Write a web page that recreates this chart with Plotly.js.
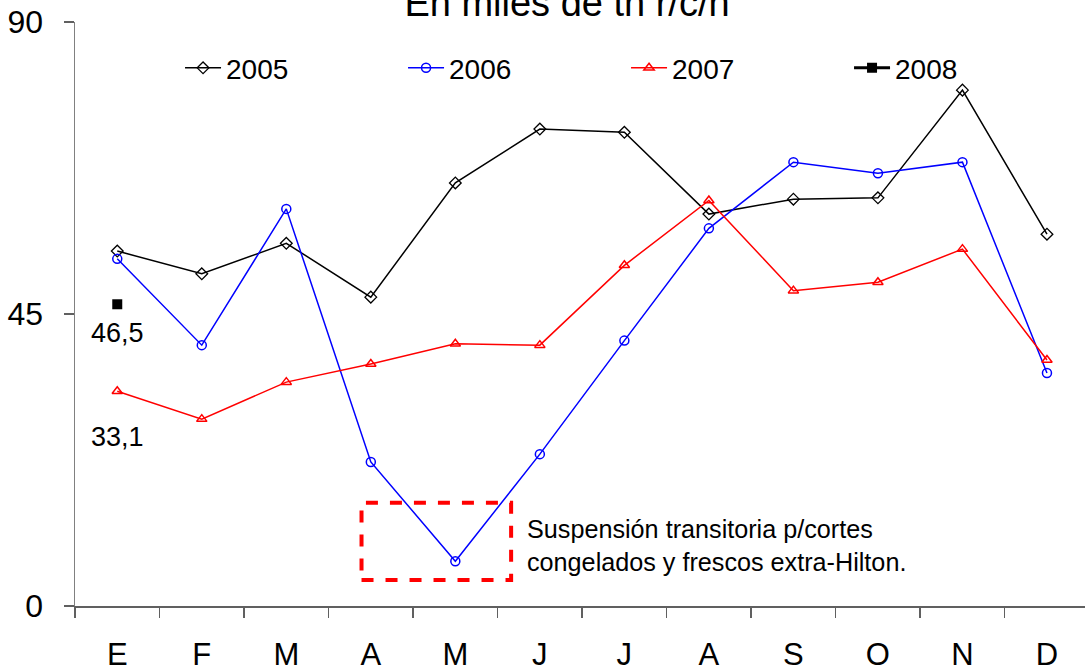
<!DOCTYPE html>
<html>
<head>
<meta charset="utf-8">
<script src="https://cdn.plot.ly/plotly-3.0.1.min.js"></script>
<style>html,body{margin:0;padding:0;background:#fff;}#chart{width:1085px;height:671px;}</style>
</head>
<body>
<div id="chart"></div>
<script>
const months = ["E","F","M","A","M ","J","J ","A ","S","O","N","D"];
const monthLabels = ["E","F","M","A","M","J","J","A","S","O","N","D"];
const y2005 = [54.7, 51.2, 55.9, 47.6, 65.2, 73.5, 73.0, 60.4, 62.7, 62.9, 79.5, 57.3];
const y2006 = [53.5, 40.2, 61.2, 22.2, 6.9, 23.4, 40.9, 58.2, 68.4, 66.7, 68.4, 35.9];
const y2007 = [33.1, 28.8, 34.5, 37.3, 40.4, 40.2, 52.5, 62.5, 48.6, 49.9, 55.0, 37.9];
const y2008 = [46.5];
const x2008 = months.slice(0, y2008.length);
const seriesNames = ["2005","2006","2007","2008"];
const noteText = "Suspensión transitoria p/cortes<br>congelados y frescos extra-Hilton.";
const titleText = "En miles de tn r/c/h";

const FONT = "Liberation Sans, Arial, sans-serif";

const traces = [
  {x: months, y: y2005, name: seriesNames[0], mode: "lines+markers",
   line: {color: "#000000", width: 1.5},
   marker: {symbol: "diamond-open", size: 9, color: "#000000", line: {width: 1.3}}},
  {x: months, y: y2006, name: seriesNames[1], mode: "lines+markers",
   line: {color: "#0000FF", width: 1.5},
   marker: {symbol: "circle-open", size: 9, color: "#0000FF", line: {width: 1.5}}},
  {x: months, y: y2007, name: seriesNames[2], mode: "lines+markers",
   line: {color: "#FF0000", width: 1.5},
   marker: {symbol: "triangle-up-open", size: 9, color: "#FF0000", line: {width: 1.5}}},
  {x: x2008, y: y2008, name: seriesNames[3], mode: "lines+markers",
   line: {color: "#000000", width: 3},
   marker: {symbol: "square", size: 10, color: "#000000"}}
];

const layout = {
  width: 1085, height: 671,
  margin: {l: 75, r: 0, t: 22, b: 65, pad: 0},
  paper_bgcolor: "#ffffff", plot_bgcolor: "#ffffff",
  font: {family: FONT, color: "#000000"},
  showlegend: true,
  title: {text: titleText, font: {family: FONT, size: 38, color: "#000"},
          xref: "container", x: 567/1085, xanchor: "center",
          yref: "container", y: 1 - 16/671, yanchor: "bottom"},
  legend: {orientation: "h", x: 0.104, y: 0.921, xanchor: "left", yanchor: "middle",
           font: {family: FONT, size: 28, color: "#000"},
           entrywidth: 172, entrywidthmode: "pixels", itemwidth: 36,
           bgcolor: "rgba(0,0,0,0)", tracegroupgap: 0},
  xaxis: {type: "category", categoryorder: "array", categoryarray: months,
          tickmode: "array", tickvals: months, ticktext: monthLabels,
          range: [-0.5, 11.45], tickson: "boundaries",
          showline: true, linecolor: "#606060", linewidth: 1.5,
          ticks: "outside", ticklen: 10, tickcolor: "#606060", tickwidth: 1.5,
          showgrid: false, zeroline: false, ticklabelstandoff: 20,
          tickfont: {family: FONT, size: 31, color: "#000"}, fixedrange: true},
  yaxis: {range: [0, 90], tickvals: [0, 45, 90], ticktext: ["0","45","90"],
          showline: true, linecolor: "#808080", linewidth: 1.5,
          ticks: "outside", ticklen: 10, tickcolor: "#606060", tickwidth: 1.5,
          showgrid: false, zeroline: false, ticklabelstandoff: 14,
          tickfont: {family: FONT, size: 32, color: "#000"}, fixedrange: true},
  annotations: [
    {xref: "x", yref: "y", x: 0, y: y2008[0], text: "46,5", showarrow: false,
     yshift: -29, font: {family: FONT, size: 27, color: "#000"}},
    {xref: "x", yref: "y", x: 0, y: y2007[0], text: "33,1", showarrow: false,
     yshift: -46, font: {family: FONT, size: 27, color: "#000"}},
    {xref: "x", yref: "y", x: 4.83, y: 9.3, text: noteText, showarrow: false,
     xanchor: "left", yanchor: "middle", align: "left",
     font: {family: FONT, size: 25.2, color: "#000"}}
  ],
  shapes: [
    {type: "rect", xref: "x", yref: "y", x0: 2.89, x1: 4.66, y0: 4.0, y1: 15.9,
     line: {color: "#FF0000", width: 4, dash: "dash"}, fillcolor: "rgba(0,0,0,0)"}
  ]
};

Plotly.newPlot("chart", traces, layout, {displayModeBar: false, staticPlot: true});
</script>
</body>
</html>
